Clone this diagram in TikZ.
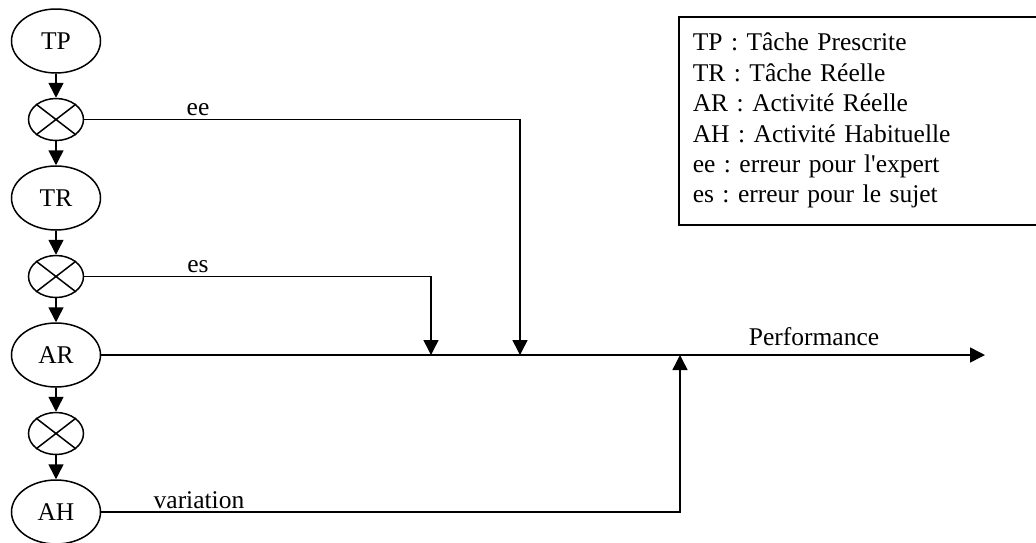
\documentclass[tikz,border=0pt]{standalone}
\usepackage{fontspec}
\setmainfont{Liberation Serif}
\usetikzlibrary{shapes.geometric, arrows.meta, positioning}

\begin{document}
\frenchspacing
\begin{tikzpicture}[
        x=1pt, y=-1pt,
        node distance=24pt,
        line width=1.5pt,
        state/.style={ellipse, draw, minimum width=89pt, minimum height=64pt, inner sep=0pt, font=\fontsize{25.5}{30.4}\selectfont},
        cross/.style={ellipse, draw, minimum width=55pt, minimum height=42pt, inner sep=0pt},
        arr/.style={-{Triangle[width=15pt,length=15pt]}},
        lbl/.style={anchor=base, inner sep=0pt, font=\fontsize{25.5}{30.4}\selectfont},
        legend/.style={draw, align=left, text width=345pt, minimum height=208pt, inner xsep=14pt, inner ysep=0pt, font=\fontsize{25.5}{30.4}\selectfont}
    ]
        \useasboundingbox (0,0) rectangle (1036,542);

        \node[state] (tp) at (56,41) {TP};
        \node[cross, below=of tp] (c1) {};
        \node[state, below=of c1] (tr) {TR};
        \node[cross, below=of tr] (c2) {};
        \node[state, below=of c2] (ar) {AR};
        \node[cross, below=of ar] (c3) {};
        \node[state, below=of c3] (ah) {AH};

        \foreach \c in {c1,c2,c3}
            \draw (\c.north west) -- (\c.south east) (\c.north east) -- (\c.south west);

        \foreach \a/\b in {tp/c1, c1/tr, tr/c2, c2/ar, ar/c3, c3/ah}
            \draw[arr] (\a) -- (\b);

        \coordinate (esin) at (431,0 |- ar);
        \coordinate (eein) at (520,0 |- ar);
        \coordinate (varin) at (680,0 |- ar);
        \coordinate (perf) at (985,0 |- ar);

        \draw[arr] (ar) -- (perf);
        \draw[arr] (c1) -| (eein);
        \draw[arr] (c2) -| (esin);
        \draw[arr] (ah) -| (varin);

        \node[lbl] (eetxt) at (198,115) {ee};
        \node[lbl] (estxt) at (198,272) {es};
        \node[lbl] (vartxt) at (199,508) {variation};
        \node[lbl] (perftxt) at (814,345) {Performance};

        \node[legend, anchor=north west] (key) at (678,16) {TP : Tâche Prescrite\\TR : Tâche Réelle\\AR : Activité Réelle\\AH : Activité Habituelle\\ee : erreur pour l\textquotesingle expert\\es : erreur pour le sujet};
    \end{tikzpicture}
\end{document}
